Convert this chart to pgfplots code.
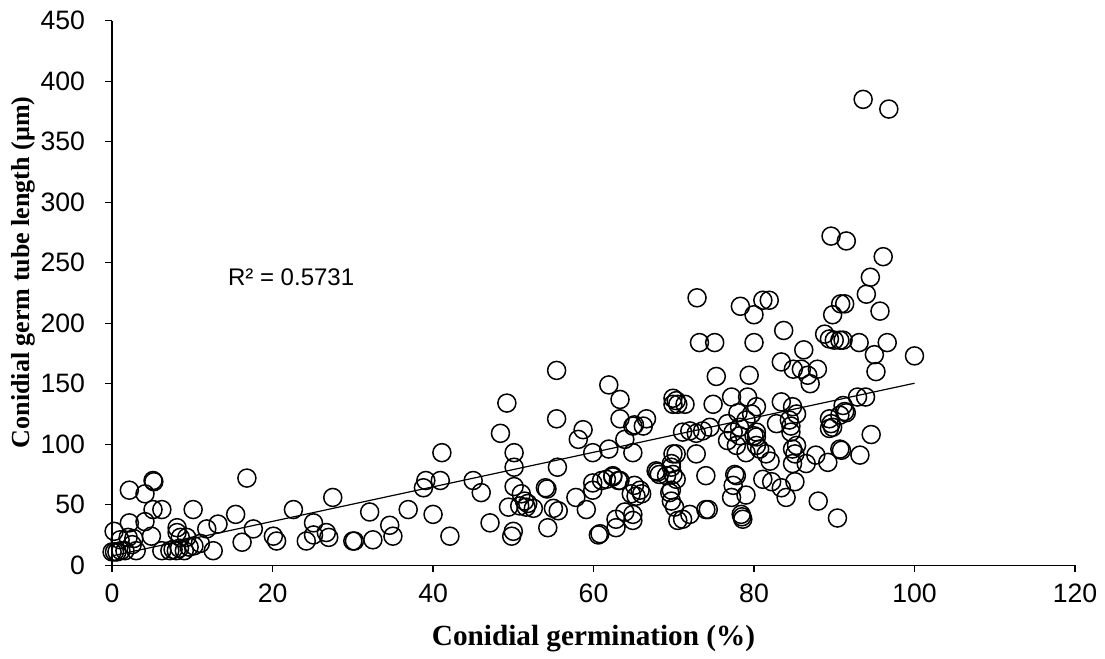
\documentclass[border=0pt]{standalone}
\usepackage{pgfplots}
\pgfplotsset{compat=1.18}
\usepackage{fontspec}
\setmainfont{Liberation Serif}
\newfontfamily\arial{Liberation Sans}
\begin{document}
\begin{tikzpicture}
\begin{axis}[
  scale only axis,
  width=481pt, height=272pt,
  xmin=0, xmax=120, ymin=0, ymax=450,
  xtick={0,20,...,120}, ytick={0,50,...,450},
  axis x line*=bottom, axis y line*=left,
  axis line style={-, line width=0.6pt, black},
  tick align=outside, major tick length=3.5pt,
  tick style={line width=0.6pt, black},
  clip=false,
  /pgf/number format/assume math mode=true,
  ticklabel style={font=\arial\fontsize{13.3}{16}\selectfont},
  xticklabel shift=2.5pt, yticklabel shift=6.5pt,
  xlabel={\textbf{Conidial germination (\%)}},
  ylabel={\textbf{Conidial germ tube length (µm)}},
  xlabel style={font=\fontsize{14.6}{17}\selectfont, at={(axis description cs:0.5,-0.148)}, anchor=base},
  ylabel style={font=\fontsize{13}{16}\selectfont, at={(axis description cs:-0.0925,0.538)}, anchor=center, rotate=0},
]
\addplot[only marks, mark=o, mark size=4.5pt, mark options={line width=0.75pt, black}] coordinates {
(0,11) (0.3,11) (0.6,11) (1.1,12) (0.25,28) (1.0,21) (1.6,12) (2.15,62) (2.15,35) (2.0,23)
(2.7,22) (3.0,12) (2.5,17) (4.1,59) (4.1,36) (5.1,70) (5.2,69) (5.1,46) (6.2,46) (4.9,24)
(6.2,12) (7.2,12) (8.1,31) (8.1,27) (8.5,23) (9.3,23) (8.0,12) (8.4,14) (9.0,12) (9.6,15)
(10.2,16) (7.6,13) (10.1,46) (11.8,30) (11.0,18) (12.6,12) (13.2,34) (15.4,42) (16.8,72) (16.2,19)
(17.6,30) (20.1,24) (20.5,20) (22.6,46) (24.2,20) (25.1,35) (25.1,25) (26.7,27) (27.0,23) (27.5,56)
(30.0,20) (30.2,20) (32.1,44) (32.5,21) (34.6,33) (35.0,24) (36.9,46) (38.8,64) (39.1,70) (40.0,42)
(41.1,93) (40.9,70) (42.1,24) (45.0,70) (46.0,60) (47.1,35) (48.4,109) (49.2,134) (49.4,48) (49.8,24)
(50.0,28) (50.1,93) (50.1,81) (50.1,65) (51.0,59) (51.4,53) (51.8,51) (52.5,47) (50.8,49) (51.6,48)
(54.0,64) (54.2,63) (54.3,31) (55.0,47) (55.6,45) (55.4,121) (55.5,81) (55.4,161) (57.8,56) (58.1,104)
(58.7,112) (59.1,46) (59.9,93) (59.9,68) (59.9,62) (60.6,25) (61.0,70) (61.9,149) (61.9,96) (62.4,73)
(63.1,70) (62.8,38) (62.8,31) (63.3,137) (63.3,121) (63.9,104) (64.9,115) (66.2,115) (66.6,121) (64.9,93)
(64.7,59) (65.3,57) (65.8,62) (64.9,42) (64.9,37) (67.8,78) (68.2,75) (69.9,138) (69.9,133) (70.3,136)
(69.9,92) (69.7,84) (69.9,75) (69.7,62) (69.7,53) (70.1,48) (70.5,37) (72.9,221) (73.2,184) (75.1,184)
(75.3,156) (78.3,214) (80.0,207) (81.1,219) (81.9,219) (80.0,184) (79.4,157) (83.7,194) (86.2,178) (83.4,168)
(84.9,162) (85.9,162) (86.7,157) (87.9,162) (87.0,150) (89.8,207) (90.8,216) (88.8,191) (89.4,187) (90.0,186)
(90.7,186) (91.1,186) (65.1,116) (70.5,133) (71.4,133) (72.0,111) (71.1,110) (72.8,109) (73.6,111) (74.5,114)
(74.9,133) (77.2,139) (79.2,139) (80.3,131) (78.0,126) (79.7,125) (79.0,120) (76.7,117) (78.2,114) (77.4,110)
(80.0,107) (80.3,110) (83.4,135) (84.8,131) (85.3,125) (84.4,120) (82.8,117) (89.4,121) (89.6,117) (89.8,114)
(89.4,113) (91.1,132) (91.3,127) (61.6,71) (62.4,74) (63.3,70) (65.1,66) (66.0,59) (63.9,44) (60.8,26)
(70.3,92) (72.8,92) (68.0,77) (69.1,74) (70.3,71) (69.7,81) (69.5,60) (71.1,38) (72.0,42) (74.0,46)
(74.3,46) (74.0,74) (76.7,103) (77.8,99) (77.6,75) (77.8,74) (77.4,66) (77.2,56) (79.0,58) (78.4,42)
(78.6,38) (78.5,40) (78.2,107) (80.3,106) (79.0,93) (80.3,99) (81.1,71) (82.2,69) (83.4,64) (84.0,56)
(81.5,92) (82.0,86) (80.7,96) (85.1,69) (84.8,96) (85.1,92) (84.8,84) (85.3,99) (84.6,115) (84.6,110)
(86.5,84) (87.7,91) (89.2,85) (90.7,96) (88.0,53) (90.4,39) (96.1,255) (94.5,238) (94.0,224) (95.7,210)
(91.3,216) (93.1,184) (96.6,184) (95.0,174) (100.0,173) (95.2,160) (92.9,139) (93.9,139) (91.5,126) (90.7,124)
(94.6,108) (90.9,95) (93.2,91) (93.6,385) (96.8,377) (89.6,272) (91.5,268)
};
\addplot[black, line width=0.6pt, no marks] coordinates {(0,7.7) (100,150.4)};
\node[anchor=west, inner sep=0pt, font=\arial\fontsize{12}{14}\selectfont] at (axis cs:14.4,237.8) {R² = 0.5731};
\end{axis}
\pgfresetboundingbox
\path[use as bounding box] (-56pt,-46.75pt) rectangle (496pt,282.35pt);
\end{tikzpicture}
\end{document}
